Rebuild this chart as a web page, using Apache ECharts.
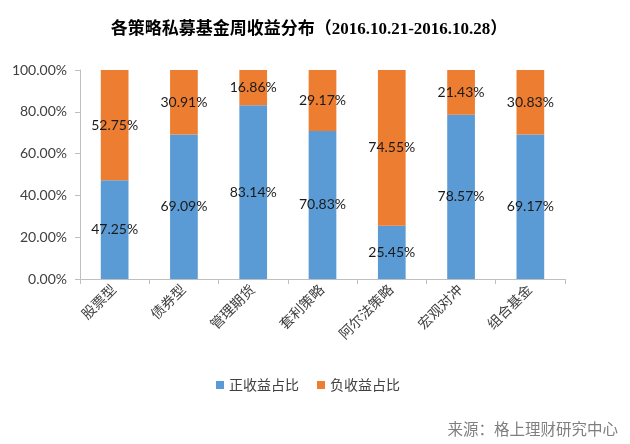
<!DOCTYPE html>
<html><head><meta charset="utf-8">
<script src="https://cdn.jsdelivr.net/npm/echarts@6/dist/echarts.min.js"></script>
<style>html,body{margin:0;padding:0;background:#fff}#c{width:630px;height:444px}</style>
</head><body><div id="c"></div>
<script>
var categories = ['股票型','债券型','管理期货','套利策略','阿尔法策略','宏观对冲','组合基金'];
var positive = [47.25, 69.09, 83.14, 70.83, 25.45, 78.57, 69.17];
var negative = [52.75, 30.91, 16.86, 29.17, 74.55, 21.43, 30.83];
var seriesNames = ['正收益占比','负收益占比'];
var chart = echarts.init(document.getElementById('c'));
var lbl = {show:true, position:'inside', color:'#1a1a1a', fontSize:14, fontFamily:'Lato, sans-serif',
  formatter:function(p){return p.value.toFixed(2)+'%';}};
chart.setOption({
  animation:false,
  title:{text:'各策略私募基金周收益分布（2016.10.21-2016.10.28）', left:304, top:16, textAlign:'center',
    textStyle:{fontSize:17, fontWeight:'bold', color:'#000', fontFamily:'"Liberation Serif", "Noto Sans CJK SC", serif'}},
  legend:{data:seriesNames, left:211, top:373, itemWidth:8, itemHeight:8, itemGap:18, icon:'rect',
    textStyle:{fontSize:14, color:'#404040', fontFamily:'"Noto Sans CJK SC", sans-serif'}},
  graphic:[{type:'text', right:12, top:421, style:{text:'来源：格上理财研究中心', fill:'#7f7f7f', fontSize:15.5,
    fontFamily:'"Noto Sans CJK SC", sans-serif'}}],
  grid:{left:80, right:65, top:70, bottom:165},
  xAxis:{type:'category', data:categories,
    axisLine:{lineStyle:{color:'#bfbfbf'}}, axisTick:{show:true, length:5, lineStyle:{color:'#bfbfbf'}},
    axisLabel:{rotate:45, fontSize:14, color:'#404040', margin:9, fontFamily:'"Liberation Serif","Noto Sans CJK SC", serif'}},
  yAxis:{type:'value', min:0, max:100, interval:20,
    axisLine:{show:true, lineStyle:{color:'#bfbfbf'}}, axisTick:{show:true, length:5, lineStyle:{color:'#bfbfbf'}},
    splitLine:{show:false},
    axisLabel:{fontSize:14, color:'#404040', margin:13, fontFamily:'Lato, sans-serif', formatter:function(v){return v.toFixed(2)+'%';}}},
  series:[
    {name:seriesNames[0], type:'bar', stack:'a', data:positive, barWidth:'40%', itemStyle:{color:'#5B9BD5'}, label:lbl},
    {name:seriesNames[1], type:'bar', stack:'a', data:negative, barWidth:'40%', itemStyle:{color:'#ED7D31'}, label:lbl}
  ]
});
</script></body></html>
